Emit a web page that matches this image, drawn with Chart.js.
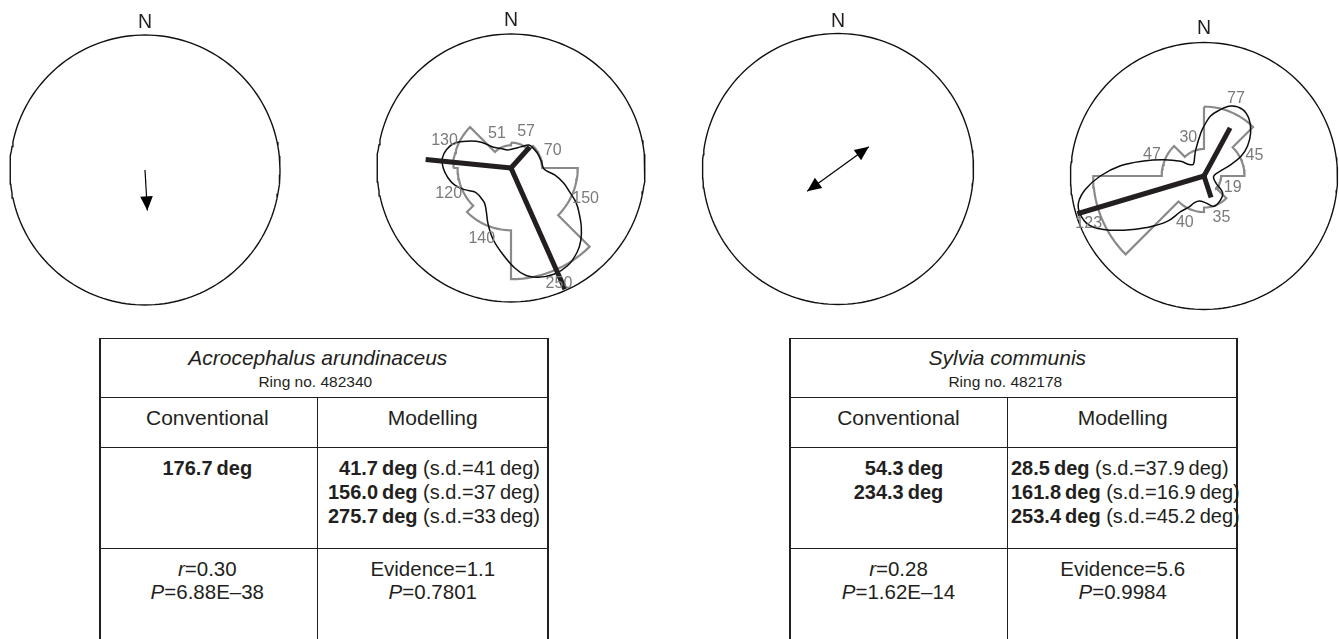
<!DOCTYPE html>
<html>
<head>
<meta charset="utf-8">
<title>Orientation of two migrants</title>
<script src="https://cdn.jsdelivr.net/npm/chart.js@4.4.1/dist/chart.umd.min.js"></script>
<style>
  html, body { margin: 0; padding: 0; background: #fff; }
  #page {
    position: relative; width: 1339px; height: 639px; overflow: hidden; background: #fff;
    font-family: "Liberation Sans", Arial, Helvetica, sans-serif; color: #231f20;
  }
  canvas.compass { position: absolute; }
  .tbl { position: absolute; top: 338px; height: 330px; }
  .hl { position: absolute; left: 0; right: 0; height: 1.4px; background: #231f20; }
  .vl { position: absolute; width: 1.4px; bottom: 0; background: #231f20; }
  .txt { position: absolute; white-space: nowrap; }
  .title { font-size: 21px; font-style: italic; line-height: 24px; text-align: center; }
  .ring { font-size: 15.5px; line-height: 24.6px; text-align: center; }
  .head { font-size: 21px; line-height: 24px; text-align: center; }
  .vals { font-size: 20px; line-height: 24px; }
  .stats { font-size: 20.5px; line-height: 23.5px; text-align: center; }
  .blk { display: inline-block; text-align: right; }
</style>
</head>
<body>
<div id="page">
  <canvas id="c1" class="compass"></canvas>
  <canvas id="c2" class="compass"></canvas>
  <canvas id="c3" class="compass"></canvas>
  <canvas id="c4" class="compass"></canvas>

  <!-- Acrocephalus arundinaceus -->
  <div class="tbl" style="left:99.3px; width:449.4px;">
    <div class="hl" style="top:0"></div>
    <div class="hl" style="top:59px"></div>
    <div class="hl" style="top:109px"></div>
    <div class="hl" style="top:209.6px"></div>
    <div class="vl" style="left:0; top:0"></div>
    <div class="vl" style="right:0; top:0"></div>
    <div class="vl" style="left:217.3px; top:59px"></div>
    <div class="txt title" style="left:0; width:437px; top:7.7px">Acrocephalus arundinaceus</div>
    <div class="txt ring" style="left:0; width:432px; top:32px">Ring no. 482340</div>
    <div class="txt head" style="left:0; width:216px; top:67.7px">Conventional</div>
    <div class="txt head" style="left:218px; width:231px; top:67.7px">Modelling</div>
    <div class="txt vals" style="left:0; width:216px; top:117.7px; text-align:center"><div class="blk"><b>176.7&#8201;deg</b></div></div>
    <div class="txt vals" style="left:218px; width:222.7px; top:117.7px; text-align:right">
      <b>41.7&#8201;deg</b> (s.d.=41&#8201;deg)<br>
      <b>156.0&#8201;deg</b> (s.d.=37&#8201;deg)<br>
      <b>275.7&#8201;deg</b> (s.d.=33&#8201;deg)
    </div>
    <div class="txt stats" style="left:0; width:216px; top:218.5px"><i>r</i>=0.30<br><i>P</i>=6.88E&#8211;38</div>
    <div class="txt stats" style="left:218px; width:231px; top:218.5px">Evidence=1.1<br><i>P</i>=0.7801</div>
  </div>

  <!-- Sylvia communis -->
  <div class="tbl" style="left:789.3px; width:448.4px;">
    <div class="hl" style="top:0"></div>
    <div class="hl" style="top:59px"></div>
    <div class="hl" style="top:109px"></div>
    <div class="hl" style="top:209.6px"></div>
    <div class="vl" style="left:0; top:0"></div>
    <div class="vl" style="right:0; top:0"></div>
    <div class="vl" style="left:217.7px; top:59px"></div>
    <div class="txt title" style="left:0; width:436px; top:7.7px">Sylvia communis</div>
    <div class="txt ring" style="left:0; width:432px; top:32px">Ring no. 482178</div>
    <div class="txt head" style="left:0; width:218.4px; top:67.7px">Conventional</div>
    <div class="txt head" style="left:218.4px; width:230px; top:67.7px">Modelling</div>
    <div class="txt vals" style="left:0; width:218.4px; top:117.7px; text-align:center"><div class="blk"><b>54.3&#8201;deg</b><br><b>234.3&#8201;deg</b></div></div>
    <div class="txt vals" style="left:221.7px; top:117.7px; text-align:left">
      <b>28.5&#8201;deg</b> (s.d.=37.9&#8201;deg)<br>
      <b>161.8&#8201;deg</b> (s.d.=16.9&#8201;deg)<br>
      <b>253.4&#8201;deg</b> (s.d.=45.2&#8201;deg)
    </div>
    <div class="txt stats" style="left:0; width:218.4px; top:218.5px"><i>r</i>=0.28<br><i>P</i>=1.62E&#8211;14</div>
    <div class="txt stats" style="left:218.4px; width:230px; top:218.5px">Evidence=5.6<br><i>P</i>=0.9984</div>
  </div>
</div>

<script>
// ---- Acrocephalus arundinaceus, ring 482340 ----
const sectorWidthDeg = 45;                       // rose sectors start at north, clockwise
const countsAcro = [57, 70, 150, 250, 140, 120, 130, 51];
const meanAcro = [176.7];                        // conventional mean direction (deg)
const rAcro = 0.30;                              // mean vector length
const modesAcro = [41.7, 156.0, 275.7];          // modelled mode directions (deg)
const modeLenAcro = [0.21, 0.99, 0.64];          // drawn length of each mode bar
// modelled density outline: bearing (deg) and radius (fraction of circle)
const curveAngAcro = [0, 10, 25, 38, 48, 61, 78, 92, 99, 106, 112, 118, 124, 130, 136, 142, 150, 158, 166, 172,
                      178, 186, 194, 202, 210, 217, 225, 231, 237, 245, 253, 261, 270, 278, 286, 294, 302, 311, 319, 333, 350];
const curveRadAcro = [0.14, 0.148, 0.174, 0.218, 0.222, 0.226, 0.232, 0.248, 0.33, 0.41, 0.47, 0.55, 0.615, 0.685, 0.75, 0.80, 0.843, 0.855, 0.84, 0.81,
                      0.745, 0.64, 0.55, 0.455, 0.37, 0.328, 0.316, 0.315, 0.326, 0.382, 0.438, 0.475, 0.506, 0.518, 0.50, 0.458, 0.378, 0.293, 0.208, 0.164, 0.136];

// ---- Sylvia communis, ring 482178 ----
const countsSylv = [77, 45, 19, 35, 40, 123, 47, 30];
const meanSylv = [54.3, 234.3];
const rSylv = 0.28;
const modesSylv = [28.5, 161.8, 253.4];
const modeLenSylv = [0.41, 0.17, 0.99];
const curveAngSylv = [0, 6, 12, 21, 30, 38.5, 47, 55.5, 62, 67, 76.6, 92, 109, 122, 132, 145, 162, 176, 191, 200, 206, 213,
                      219, 228, 236, 242, 247, 253, 258, 263.5, 270, 277, 284, 292, 302, 307.5, 315, 323, 334, 343, 356];
const curveRadSylv = [0.375, 0.45, 0.498, 0.562, 0.577, 0.543, 0.478, 0.396, 0.314, 0.219, 0.104, 0.072, 0.08, 0.11, 0.187, 0.217, 0.239, 0.202, 0.19, 0.215, 0.26, 0.317,
                      0.438, 0.577, 0.726, 0.853, 0.938, 0.971, 0.961, 0.895, 0.777, 0.63, 0.465, 0.325, 0.207, 0.142, 0.12, 0.125, 0.16, 0.209, 0.326];

const ROSE_MAX = 0.83;         // largest sector reaches this fraction of the circle
const LABEL_GAP = 0.105;       // count labels sit this far beyond their sector
const N_GAP_PX = 147;          // "N" sits this many pixels above the centre

const INK = '#231f20';
const GREY = '#8a8a8a';
const GREY_TEXT = '#7a7a7a';
const FONT = '"Liberation Sans", Arial, Helvetica, sans-serif';

const D2R = Math.PI / 180;
function polar(deg, r) { return { x: r * Math.sin(deg * D2R), y: r * Math.cos(deg * D2R) }; }

function ringPoints() {
  const pts = [];
  for (let a = 0; a <= 360; a += 2) pts.push(polar(a, 1));
  return pts;
}

function roseOutline(counts) {
  const max = Math.max(...counts);
  const pts = [];
  counts.forEach((c, i) => {
    const r = c / max * ROSE_MAX;
    for (let a = i * sectorWidthDeg; a <= (i + 1) * sectorWidthDeg + 1e-9; a += 3) pts.push(polar(a, r));
  });
  pts.push(pts[0]);
  return pts;
}

function roseLabels(counts) {
  const max = Math.max(...counts);
  return counts.map((c, i) => ({
    text: String(c), angle: (i + 0.5) * sectorWidthDeg, r: c / max * ROSE_MAX + LABEL_GAP,
    font: '16px ' + FONT, color: GREY_TEXT
  }));
}

function curvePoints(angs, rads) {
  const pts = angs.map((a, i) => polar(a, rads[i]));
  pts.push(pts[0]);
  return pts;
}

// Text placed at polar positions through the chart's own scales
function polarTextPlugin(items) {
  return {
    id: 'polarText',
    afterDatasetsDraw(chart) {
      const { ctx, scales: { x, y } } = chart;
      ctx.save();
      ctx.textAlign = 'center';
      ctx.textBaseline = 'middle';
      items.forEach(it => {
        const p = polar(it.angle, it.r);
        ctx.font = it.font;
        ctx.fillStyle = it.color;
        ctx.fillText(it.text, x.getPixelForValue(p.x), y.getPixelForValue(p.y));
      });
      ctx.restore();
    }
  };
}

// Filled arrowheads on line datasets that ask for them
const HEAD_LEN = 14, HEAD_HALF = 6.3;
const arrowHeads = {
  id: 'arrowHeads',
  afterDatasetsDraw(chart) {
    const ctx = chart.ctx;
    chart.data.datasets.forEach((ds, i) => {
      if (!ds.arrowEnds) return;
      const pts = chart.getDatasetMeta(i).data;
      const head = (tip, from) => {
        const ang = Math.atan2(tip.y - from.y, tip.x - from.x);
        ctx.save();
        ctx.translate(tip.x, tip.y);
        ctx.rotate(ang);
        ctx.beginPath();
        ctx.moveTo(0, 0);
        ctx.lineTo(-HEAD_LEN, HEAD_HALF);
        ctx.lineTo(-HEAD_LEN, -HEAD_HALF);
        ctx.closePath();
        ctx.fillStyle = ds.borderColor;
        ctx.fill();
        ctx.restore();
      };
      const n = pts.length;
      head(pts[n - 1], pts[n - 2]);
      if (ds.arrowEnds === 'both') head(pts[0], pts[1]);
    });
  }
};

function lineSet(data, extra) {
  return Object.assign({
    data, showLine: true, fill: false, pointRadius: 0, pointHoverRadius: 0,
    borderColor: INK, borderWidth: 1.4, tension: 0
  }, extra);
}

function compass(id, layout, parts) {
  const { cx, cy, R } = layout;
  const W = 292, H = 318;
  const above = Math.round(1.2 * R);
  const canvas = document.getElementById(id);
  canvas.width = W; canvas.height = H;
  canvas.style.width = W + 'px'; canvas.style.height = H + 'px';
  canvas.style.left = (cx - W / 2) + 'px';
  canvas.style.top = (cy - above) + 'px';

  const datasets = [lineSet(ringPoints(), { order: 6, borderColor: '#111', borderWidth: 1.4 })];
  const labels = [{ text: 'N', angle: 0, r: N_GAP_PX / R, font: '19.5px ' + FONT, color: INK }];

  if (parts.counts) {
    datasets.push(lineSet(roseOutline(parts.counts), { order: 5, borderColor: GREY, borderWidth: 2.2, borderJoinStyle: 'miter' }));
    labels.push(...roseLabels(parts.counts));
  }
  if (parts.curveAng) {
    datasets.push(lineSet(curvePoints(parts.curveAng, parts.curveRad), { order: 4, borderColor: '#0d0d0d', borderWidth: 1.5, tension: 0.4 }));
  }
  if (parts.modes) {
    parts.modes.forEach((m, i) => {
      datasets.push(lineSet([polar(m, 0), polar(m, parts.modeLen[i])], {
        order: 1, borderWidth: 5, borderCapStyle: 'butt',
        pointRadius: c => (c.dataIndex === 0 ? 2.5 : 0), pointBackgroundColor: INK, pointBorderWidth: 0
      }));
    });
  }
  if (parts.mean) {
    const m = parts.mean;
    const pts = m.length === 1 ? [polar(m[0], 0), polar(m[0], parts.r)] : [polar(m[1], parts.r), polar(m[0], parts.r)];
    datasets.push(lineSet(pts, { order: 2, borderColor: '#000', borderWidth: 1.2, arrowEnds: m.length === 1 ? 'end' : 'both' }));
  }

  new Chart(canvas, {
    type: 'scatter',
    data: { datasets },
    options: {
      responsive: false, maintainAspectRatio: false, animation: false, devicePixelRatio: 1,
      layout: { padding: 0, autoPadding: false },
      events: [],
      plugins: { legend: { display: false }, tooltip: { enabled: false }, title: { display: false } },
      scales: {
        x: { type: 'linear', display: false, bounds: 'data', min: -W / 2 / R, max: W / 2 / R },
        y: { type: 'linear', display: false, bounds: 'data', min: -(H - above) / R, max: above / R }
      }
    },
    plugins: [arrowHeads, polarTextPlugin(labels)]
  });
}

compass('c1', { cx: 145, cy: 170, R: 135 }, { mean: meanAcro, r: rAcro });
compass('c2', { cx: 510.5, cy: 168.3, R: 134 }, { counts: countsAcro, curveAng: curveAngAcro, curveRad: curveRadAcro, modes: modesAcro, modeLen: modeLenAcro });
compass('c3', { cx: 837.5, cy: 169, R: 135.5 }, { mean: meanSylv, r: rSylv });
compass('c4', { cx: 1203.5, cy: 176, R: 133.5 }, { counts: countsSylv, curveAng: curveAngSylv, curveRad: curveRadSylv, modes: modesSylv, modeLen: modeLenSylv });
</script>
</body>
</html>
